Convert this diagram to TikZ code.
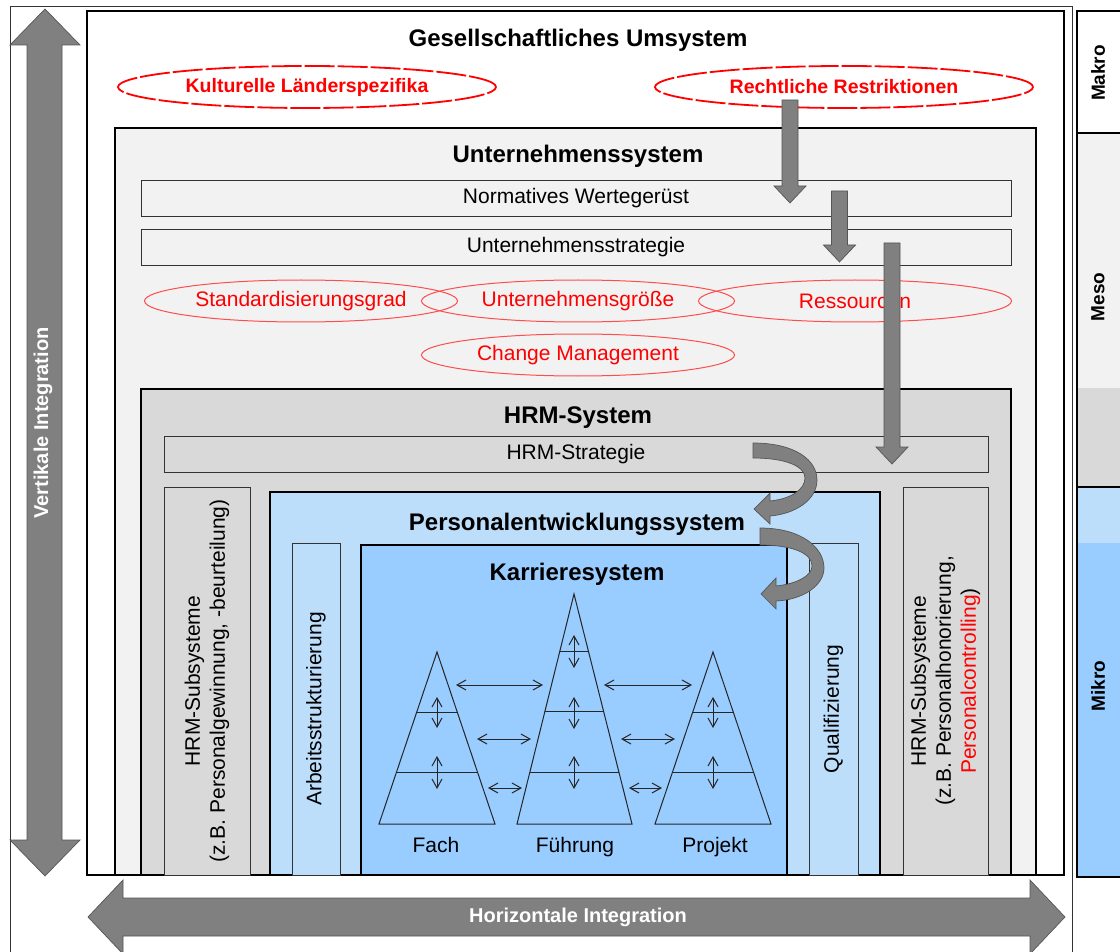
\documentclass[tikz,border=0pt]{standalone}
\usepackage{fontspec}
\setmainfont{Liberation Sans}
\usepackage{xcolor}
\usepackage{tikz}
\usetikzlibrary{positioning, arrows.meta, shapes.geometric, calc}
\definecolor{untfill}{HTML}{F2F2F2}
\definecolor{hrmfill}{HTML}{D9D9D9}
\definecolor{pefill}{HTML}{BDDEFA}
\definecolor{karrfill}{HTML}{99CCFF}
\definecolor{blockgray}{HTML}{808080}
\definecolor{blockedge}{HTML}{555555}
\definecolor{hint}{HTML}{FF0000}
\definecolor{thinline}{HTML}{333333}
\tikzset{
  sysframe/.style  = {rectangle, draw=black, line width=2.5pt, anchor=north west,
                      inner sep=0pt, outer sep=0pt},
  layerbar/.style  = {rectangle, draw=thinline, line width=0.9pt, anchor=north west,
                      inner sep=0pt, outer sep=0pt, font=\fontsize{21}{25}\selectfont},
  sidebar/.style   = {rectangle, draw=thinline, line width=0.9pt, rotate=90,
                      inner sep=0pt, align=center, font=\fontsize{21}{25}\selectfont},
  systitle/.style  = {anchor=base, inner sep=0pt, font=\bfseries\fontsize{24}{28}\selectfont},
  factor/.style    = {ellipse, draw=hint, line width=1.8pt, dash pattern=on 30pt off 3pt,
                      text=hint, inner sep=0pt, minimum width=378, minimum height=42,
                      font=\bfseries\fontsize{19.5}{23}\selectfont},
  ctxellipse/.style= {ellipse, draw=hint!70, line width=1pt, text=hint, inner sep=0pt,
                      minimum width=313, minimum height=42, font=\fontsize{21}{25}\selectfont},
  grayblock/.style = {draw=blockedge, line width=0.7pt, fill=blockgray},
  pyr/.style       = {draw=black!85, line width=1pt},
  dblarr/.style    = {{Straight Barb[length=9pt,width=10pt]}-{Straight Barb[length=9pt,width=10pt]},
                      draw=black!85, line width=1pt},
  levelname/.style = {rotate=90, inner sep=0pt, font=\bfseries\fontsize{19}{23}\selectfont},
  flowtext/.style  = {text=white, inner sep=0pt, font=\bfseries\fontsize{20}{24}\selectfont},
  career/.style    = {anchor=base, inner sep=0pt, font=\fontsize{21}{25}\selectfont},
}
\newcommand{\blockdown}[3]{% x, y start, y tip
  \filldraw[grayblock] (#1-8,#2) -- (#1-8,#3-17) -- (#1-16,#3-17) -- (#1,#3)
    -- (#1+16,#3-17) -- (#1+8,#3-17) -- (#1+8,#2) -- cycle;}

\begin{document}
\begin{tikzpicture}[x=1pt, y=-1pt]
  \useasboundingbox (0,0) rectangle (1120,952);

  % outer frame
  \draw[thinline, line width=0.8pt] (10,6) rectangle (1072,975);

  % Gesellschaftliches Umsystem
  \node[sysframe, fill=white, minimum width=977, minimum height=864] (ges) at (87,11) {};
  \node[systitle] (gesT) at (578,47) {Gesellschaftliches Umsystem};
  \node[factor] (kultur) at (307,87) {Kulturelle Länderspezifika};
  \node[factor] (recht) at (844,87) {Rechtliche Restriktionen};

  % Unternehmenssystem
  \node[sysframe, fill=untfill, minimum width=921, minimum height=747] (unt) at (115,128) {};
  \node[systitle] (untT) at (578,163) {Unternehmenssystem};
  \node[layerbar, fill=untfill, minimum width=870, minimum height=36] (norm) at (141,180)
       {Normatives Wertegerüst};
  \node[layerbar, fill=untfill, minimum width=870, minimum height=36] (ustrat) at (141,229)
       {Unternehmensstrategie};
  \node[ctxellipse] (std) at (301,301) {Standardisierungsgrad};
  \node[ctxellipse] (groesse) at (578,301) {Unternehmensgröße};
  \node[ctxellipse] (ress) at (855,301) {Ressourcen};
  \node[ctxellipse] (change) at (578,355) {Change Management};

  % HRM-System
  \node[sysframe, fill=hrmfill, minimum width=870, minimum height=486] (hrm) at (141,389) {};
  \node[systitle] (hrmT) at (578,423) {HRM-System};
  \node[layerbar, fill=hrmfill, minimum width=824, minimum height=36] (hrmstrat) at (164,436)
       {HRM-Strategie};
  \node[sidebar, fill=hrmfill, minimum width=388, minimum height=86] (subl) at (207,681)
       {HRM-Subsysteme\\(z.B. Personalgewinnung, -beurteilung)};
  \node[sidebar, fill=hrmfill, minimum width=388, minimum height=85] (subr) at (945.5,681)
       {HRM-Subsysteme\\(z.B. Personalhonorierung,\\\textcolor{hint}{Personalcontrolling})};

  % Personalentwicklungssystem
  \node[sysframe, fill=pefill, minimum width=610, minimum height=383] (pe) at (270,492) {};
  \node[systitle] (peT) at (577,530) {Personalentwicklungssystem};
  \node[sidebar, fill=pefill, minimum width=332, minimum height=48] (arbeit) at (316,709)
       {Arbeitsstrukturierung};
  \node[sidebar, fill=pefill, minimum width=332, minimum height=49] (quali) at (833.5,709)
       {Qualifizierung};

  % Karrieresystem
  \node[sysframe, fill=karrfill, minimum width=426, minimum height=330] (karr) at (361,545) {};
  \node[systitle] (karrT) at (577,580) {Karrieresystem};

  \coordinate (fachTop) at (437,652); \coordinate (fachL) at (379,824); \coordinate (fachR) at (495,824);
  \coordinate (fuehTop) at (574,594); \coordinate (fuehL) at (517,824); \coordinate (fuehR) at (632,824);
  \coordinate (projTop) at (713,652); \coordinate (projL) at (655,824); \coordinate (projR) at (771,824);
  \draw[pyr] (fachTop) -- (fachL) -- (fachR) -- cycle;
  \draw[pyr] (fuehTop) -- (fuehL) -- (fuehR) -- cycle;
  \draw[pyr] (projTop) -- (projL) -- (projR) -- cycle;
  \foreach \t in {0.349, 0.703} {
    \draw[pyr] ($(fachTop)!\t!(fachL)$) -- ($(fachTop)!\t!(fachR)$);
    \draw[pyr] ($(projTop)!\t!(projL)$) -- ($(projTop)!\t!(projR)$);
  }
  \foreach \t in {0.248, 0.513, 0.778}
    \draw[pyr] ($(fuehTop)!\t!(fuehL)$) -- ($(fuehTop)!\t!(fuehR)$);

  % Wechsel innerhalb und zwischen den Laufbahnen
  \foreach \px in {437, 713}
    \foreach \ya/\yb in {697/728, 756/789}
      \draw[dblarr] (\px,\ya) -- (\px,\yb);
  \foreach \ya/\yb in {635/668, 697/729, 756/789}
    \draw[dblarr] (574,\ya) -- (574,\yb);
  \foreach \xa/\xb/\yy in {456/543/685, 604/692/685, 477/531/739, 621/675/739, 488/522/788, 629/662/788}
    \draw[dblarr] (\xa,\yy) -- (\xb,\yy);

  \node[career] (fach) at (436,852) {Fach};
  \node[career] (fuehrung) at (575,852) {Führung};
  \node[career] (projekt) at (715,852) {Projekt};

  % Wirkungspfeile
  \blockdown{790}{100}{203}
  \blockdown{839.5}{191}{262}
  \blockdown{892}{243}{464}

  \filldraw[grayblock] (753,443) .. controls (795,443) and (817,460) .. (817,480)
    .. controls (817,500) and (795,514) .. (770,516) -- (770,524) -- (754,509)
    -- (770,493) -- (770,501) .. controls (790,499) and (805,490) .. (805,478)
    .. controls (805,466) and (785,458) .. (753,458) -- cycle;
  \filldraw[grayblock] (760,528) .. controls (802,528) and (824,548) .. (824,568)
    .. controls (824,586) and (802,600) .. (776,601) -- (776,609) -- (761,594)
    -- (776,578) -- (776,586) .. controls (796,584) and (812,576) .. (812,566)
    .. controls (812,553) and (792,545) .. (760,545) -- cycle;

  % Integration
  \filldraw[grayblock] (45,9) -- (80,45) -- (62,45) -- (62,840) -- (80,840) -- (45,876)
    -- (10,840) -- (27,840) -- (27,45) -- (10,45) -- cycle;
  \node[flowtext, rotate=90] (vertT) at (43,423) {Vertikale Integration};
  \filldraw[grayblock] (88,917) -- (123,880) -- (123,898) -- (1030,898) -- (1030,880)
    -- (1065,917) -- (1030,954) -- (1030,936) -- (123,936) -- (123,954) -- cycle;
  \node[flowtext] (horT) at (578,917) {Horizontale Integration};

  % Ebenen
  \fill[white] (1077,11) rectangle (1124,133);
  \fill[untfill] (1077,133) rectangle (1124,388);
  \fill[hrmfill] (1077,388) rectangle (1124,487);
  \fill[pefill] (1077,487) rectangle (1124,543);
  \fill[karrfill] (1077,543) rectangle (1124,877);
  \draw[line width=2.5pt] (1077,11) rectangle (1124,877);
  \draw[line width=2.5pt] (1077,133) -- (1124,133);
  \draw[line width=1.5pt] (1077,487) -- (1124,487);
  \node[levelname] (makro) at (1098,73) {Makro};
  \node[levelname] (meso) at (1098,297) {Meso};
  \node[levelname] (mikro) at (1098,686) {Mikro};

\end{tikzpicture}
\end{document}
